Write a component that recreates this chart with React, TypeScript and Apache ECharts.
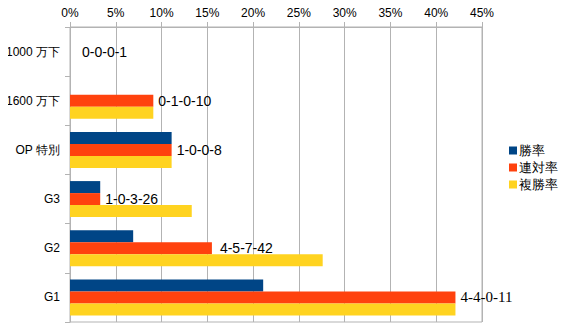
import React, { useEffect, useRef } from "react";
import * as echarts from "echarts";

const categories = ["1000 万下", "1600 万下", "OP 特別", "G3", "G2", "G1"];
const records = ["0-0-0-1", "0-1-0-10", "1-0-0-8", "1-0-3-26", "4-5-7-42", "4-4-0-11"];
const winRate = [0, 0, 11.1, 3.3, 6.9, 21.1];
const quinellaRate = [0, 9.1, 11.1, 3.3, 15.5, 42.1];
const showRate = [0, 9.1, 11.1, 13.3, 27.6, 42.1];
const seriesNames = ["勝率", "連対率", "複勝率"];
const colors = ["#004586", "#ff420e", "#ffd320"];

export default function App() {
  const ref = useRef<HTMLDivElement>(null);
  useEffect(() => {
    const chart = echarts.init(ref.current!, null, { renderer: "svg" });
    const font = "'Liberation Sans', Arial, sans-serif";
    const serif = "'Liberation Serif', 'Times New Roman', serif";
    const values = [winRate, quinellaRate, showRate];
    const labelTweaks: Record<number, any> = {
      0: { offset: [7, 0] },
      4: { offset: [3, 0] },
    };
    chart.setOption({
      animation: false,
      textStyle: { fontFamily: font },
      grid: {
        left: 70,
        right: 85,
        top: 27,
        bottom: 11,
        show: true,
        borderColor: "#b3b3b3",
        borderWidth: 1,
      },
      legend: {
        orient: "vertical",
        left: 504,
        top: 139,
        itemWidth: 8,
        itemHeight: 8,
        itemGap: 4,
        icon: "rect",
        textStyle: { fontSize: 13, color: "#000", fontFamily: font, padding: [0, 0, 0, -3] },
        data: seriesNames,
      },
      xAxis: {
        type: "value",
        position: "top",
        min: 0,
        max: 45,
        interval: 5,
        axisLine: { show: true, lineStyle: { color: "#b3b3b3" } },
        axisTick: { show: true, length: 5, lineStyle: { color: "#b3b3b3" } },
        axisLabel: { formatter: "{value}%", color: "#000", fontSize: 12, margin: 8 },
        splitLine: { show: true, lineStyle: { color: "#b3b3b3" } },
      },
      yAxis: {
        type: "category",
        inverse: true,
        data: categories,
        axisLine: { show: true, lineStyle: { color: "#b3b3b3" } },
        axisTick: { show: true, length: 5, lineStyle: { color: "#b3b3b3" } },
        axisLabel: { color: "#000", fontSize: 12, margin: 10 },
      },
      series: seriesNames.map((name, i) => ({
        name,
        type: "bar",
        data: values[i].map((v, j) =>
          i === 1 && labelTweaks[j] ? { value: v, label: labelTweaks[j] } : v
        ),
        barWidth: 12,
        barGap: "0%",
        itemStyle: { color: colors[i] },
        label:
          i === 1
            ? {
                show: true,
                position: "right",
                distance: 5,
                color: "#000",
                fontSize: 14,
                formatter: (p: any) =>
                  p.dataIndex === 5 ? `{s|${records[p.dataIndex]}}` : records[p.dataIndex],
                rich: {
                  s: { fontFamily: serif, fontSize: 15, color: "#000" },
                },
              }
            : { show: false },
      })),
    });
    return () => chart.dispose();
  }, []);
  return <div ref={ref} style={{ width: 567, height: 333, margin: -8 }} />;
}
